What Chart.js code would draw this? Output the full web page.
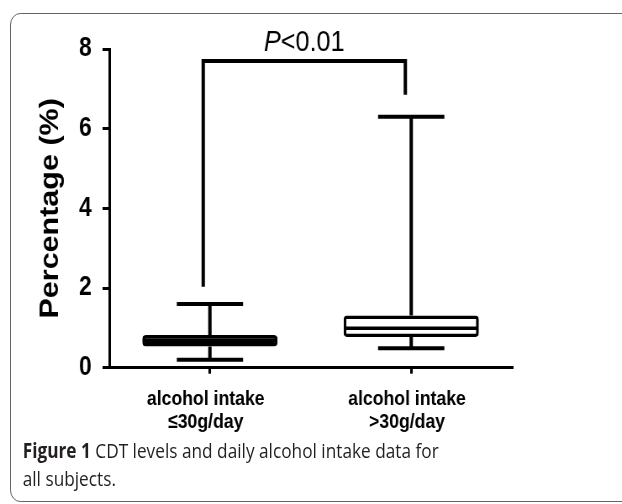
<!DOCTYPE html>
<html>
<head>
<meta charset="utf-8">
<script src="https://cdn.jsdelivr.net/npm/chart.js@4/dist/chart.umd.min.js"></script>
<style>
  html, body { margin: 0; background: #fff; overflow: hidden; }
  /* the source figure is horizontally squashed: lay out at 740 wide, squeeze to 622 */
  #wrap { position: relative; width: 740px; height: 504px; overflow: hidden;
          transform: scaleX(0.8405); transform-origin: 0 0; }
  #frame { position: absolute; left: 12px; top: 13px; width: 800px; height: 487px;
           border: 1.5px solid #555; border-radius: 12px; }
  #c { position: absolute; left: 0; top: 0; }
  #caption { position: absolute; left: 27px; top: 436px; font-family: 'Open Sans', sans-serif;
             font-size: 20.5px; line-height: 28px; color: #231f20; white-space: nowrap; }
</style>
</head>
<body>
<div id="wrap">
  <div id="frame"></div>
  <canvas id="c" width="740" height="440"></canvas>
  <div id="caption"><b>Figure 1</b> CDT levels and daily alcohol intake data for<br>all subjects.</div>
</div>
<script>
// box plot values
const categories = [['alcohol intake', '≤30g/day'], ['alcohol intake', '>30g/day']];
const q1 = [0.53, 0.77];
const q3 = [0.82, 1.31];
const medians = [0.68, 0.99];
const whiskerLow = [0.2, 0.49];
const whiskerHigh = [1.6, 6.3];
const yTicks = [0, 2, 4, 6, 8];

// significance bracket
const bracketTop = 7.7;
const bracketEnds = [2.03, 6.85];
const pLabel = ['P', '<0.01'];

const FONT = "'Liberation Sans', Arial, sans-serif";

// whiskers, caps, median lines + the P bracket
const boxExtras = {
    id: 'boxExtras',
    afterDatasetsDraw(chart) {
        const ctx = chart.ctx;
        const x = chart.scales.x, y = chart.scales.y;
        const bars = chart.getDatasetMeta(0).data;
        ctx.save();
        ctx.strokeStyle = '#000';
        ctx.lineCap = 'butt';
        categories.forEach((c, i) => {
            const cx = x.getPixelForValue(i);
            const half = bars[i].width / 2;
            const capHalf = half * 0.49;
            ctx.lineWidth = 4;
            ctx.beginPath();
            ctx.moveTo(cx, y.getPixelForValue(q3[i])); ctx.lineTo(cx, y.getPixelForValue(whiskerHigh[i]));
            ctx.moveTo(cx, y.getPixelForValue(q1[i])); ctx.lineTo(cx, y.getPixelForValue(whiskerLow[i]));
            ctx.moveTo(cx - capHalf, y.getPixelForValue(whiskerHigh[i])); ctx.lineTo(cx + capHalf, y.getPixelForValue(whiskerHigh[i]));
            ctx.moveTo(cx - capHalf, y.getPixelForValue(whiskerLow[i])); ctx.lineTo(cx + capHalf, y.getPixelForValue(whiskerLow[i]));
            ctx.stroke();
            ctx.lineWidth = 3.5;
            ctx.beginPath();
            ctx.moveTo(cx - half + 2, y.getPixelForValue(medians[i]));
            ctx.lineTo(cx + half - 2, y.getPixelForValue(medians[i]));
            ctx.stroke();
        });

        // bracket, legs sit a little left of the box centres
        const lx = x.getPixelForValue(0) - 8, rx = x.getPixelForValue(1) - 7;
        const ty = y.getPixelForValue(bracketTop);
        ctx.lineWidth = 4;
        ctx.lineJoin = 'miter';
        ctx.beginPath();
        ctx.moveTo(lx, y.getPixelForValue(bracketEnds[0]));
        ctx.lineTo(lx, ty);
        ctx.lineTo(rx, ty);
        ctx.lineTo(rx, y.getPixelForValue(bracketEnds[1]));
        ctx.stroke();

        ctx.fillStyle = '#000';
        ctx.textBaseline = 'alphabetic';
        ctx.font = 'italic 30px ' + FONT;
        const w1 = ctx.measureText(pLabel[0]).width;
        ctx.font = '30px ' + FONT;
        const w2 = ctx.measureText(pLabel[1]).width;
        const tx = (lx + rx) / 2 - (w1 + w2) / 2;
        ctx.font = 'italic 30px ' + FONT;
        ctx.fillText(pLabel[0], tx, ty - 10);
        ctx.font = '30px ' + FONT;
        ctx.fillText(pLabel[1], tx + w1, ty - 10);
        ctx.restore();
    }
};

new Chart(document.getElementById('c'), {
    type: 'bar',
    data: {
        labels: categories,
        datasets: [{
            data: q1.map((v, i) => [v, q3[i]]),
            backgroundColor: ['#000', '#fff'],
            borderColor: '#000',
            borderWidth: 3.5,
            borderRadius: 4,
            borderSkipped: false,
            categoryPercentage: 1,
            barPercentage: 0.672
        }]
    },
    options: {
        responsive: false,
        devicePixelRatio: 1,
        animation: false,
        layout: { padding: { top: 49, right: 131, left: 0, bottom: 0 } },
        plugins: { legend: { display: false }, tooltip: { enabled: false } },
        scales: {
            x: {
                afterFit: s => { s.height = 72.3; },
                grid: { offset: false, drawOnChartArea: false, tickLength: 6, color: '#000', lineWidth: 3 },
                border: { color: '#000', width: 3 },
                ticks: { color: '#000', padding: 14, labelOffset: -5, font: { family: FONT, size: 21, weight: 'bold', lineHeight: 1.1 } }
            },
            y: {
                min: 0, max: 8,
                afterFit: s => { s.width = 130; },
                afterBuildTicks: s => { s.ticks = yTicks.map(v => ({ value: v })); },
                grid: { drawOnChartArea: false, tickLength: 8, color: '#000', lineWidth: 3 },
                border: { color: '#000', width: 3 },
                ticks: { color: '#000', padding: 13, font: { family: FONT, size: 27, weight: 'bold' } },
                title: {
                    display: true, text: 'Percentage (%)', color: '#000',
                    padding: { top: 42, bottom: 0 },
                    font: { family: FONT, size: 30.5, weight: 'bold' }
                }
            }
        }
    },
    plugins: [boxExtras]
});
</script>
</body>
</html>
